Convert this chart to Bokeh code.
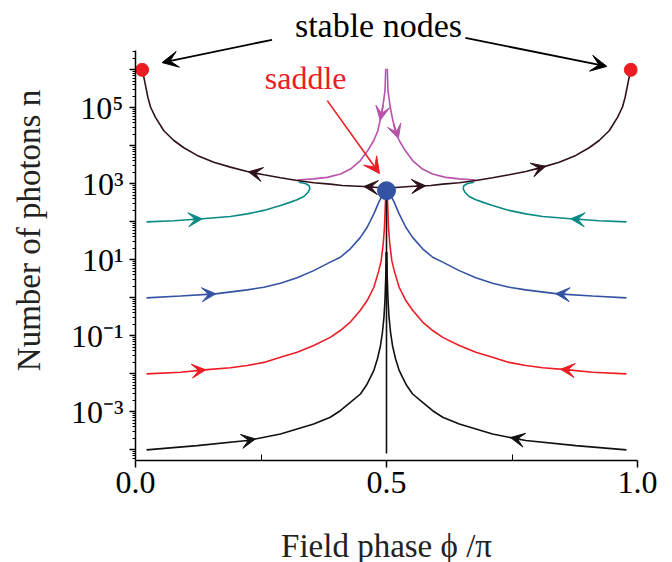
import numpy as np
from bokeh.plotting import figure
from bokeh.layouts import column
from bokeh.models import (FixedTicker, CustomJSTickFormatter, Arrow, VeeHead,
                          Label, Range1d)
from bokeh.embed import file_html
from bokeh.resources import INLINE

# ---------------- data (phi/pi , n) ----------------
sep_left_phi = [0.0133, 0.0166, 0.0199, 0.0246, 0.0299, 0.0398, 0.0564, 0.0764,
                0.0963, 0.1229, 0.156, 0.189, 0.2225, 0.2557, 0.2888, 0.322,
                0.355, 0.388, 0.4117, 0.4548, 0.4814, 0.500]
sep_right_phi = [0.9867, 0.9834, 0.9801, 0.9754, 0.9701, 0.9602, 0.9436, 0.9236,
                 0.9037, 0.8771, 0.844, 0.811, 0.7775, 0.7443, 0.7112, 0.678,
                 0.645, 0.612, 0.5883, 0.5452, 0.5186, 0.500]
sep_n = [1.0e6, 6.4e5, 3.9e5, 1.9e5, 1.05e5, 5.6e4, 2.5e4, 1.38e4,
         8.9e3, 5.6e3, 3.7e3, 2.75e3, 2.1e3, 1.73e3, 1.44e3, 1.22e3,
         1.07e3, 980, 900, 850, 800, 760]

black_left_phi = [0.022, 0.1229, 0.2225, 0.2888, 0.355, 0.388, 0.408, 0.428, 0.448,
                  0.460, 0.468, 0.475, 0.482, 0.488, 0.492, 0.495, 0.497, 0.4985,
                  0.4993]
black_right_phi = [0.978, 0.8771, 0.7775, 0.7112, 0.645, 0.612, 0.592, 0.572, 0.552,
                   0.540, 0.532, 0.525, 0.518, 0.512, 0.508, 0.505, 0.503, 0.5015,
                   0.5007]
black_n = [1.0e-4, 1.29e-4, 1.76e-4, 2.6e-4, 4.8e-4, 7.2e-4, 1.07e-3, 1.78e-3,
           2.95e-3, 5.0e-3, 8.1e-3, 1.26e-2, 2.5e-2, 5.5e-2, 0.126, 0.316, 0.89,
           3.5, 16]

red_left_phi = [0.022, 0.0896, 0.1428, 0.189, 0.2225, 0.2557, 0.2888, 0.322, 0.355,
                0.388, 0.408, 0.428, 0.448, 0.4615, 0.4748, 0.4847, 0.4894, 0.4934,
                0.496, 0.498, 0.4995]
red_right_phi = [0.978, 0.9104, 0.8572, 0.811, 0.7775, 0.7443, 0.7112, 0.678, 0.645,
                 0.612, 0.592, 0.572, 0.552, 0.5385, 0.5252, 0.5153, 0.5106, 0.5066,
                 0.504, 0.502, 0.5005]
red_n = [1.0e-2, 1.1e-2, 1.29e-2, 1.45e-2, 1.66e-2, 2.0e-2, 2.75e-2, 3.7e-2, 5.6e-2,
         9.1e-2, 0.138, 0.23, 0.47, 0.85, 1.9, 5.2, 9.5, 26, 72, 360, 600]

blue_left_phi = [0.022, 0.0896, 0.159, 0.2225, 0.2557, 0.2888, 0.322, 0.355, 0.388,
                 0.408, 0.428, 0.448, 0.4615, 0.4748, 0.4847, 0.4914, 0.496]
blue_right_phi = [0.978, 0.9104, 0.841, 0.7775, 0.7443, 0.7112, 0.678, 0.645, 0.612,
                  0.592, 0.572, 0.552, 0.5385, 0.5252, 0.5153, 0.5086, 0.504]
blue_n = [1.0, 1.12, 1.27, 1.62, 1.9, 2.42, 3.36, 5.2, 8.7,
          11.7, 19.5, 39, 72, 162, 330, 490, 600]

teal_left_phi = [0.022, 0.0764, 0.1328, 0.189, 0.2225, 0.2557, 0.2888, 0.3088, 0.322,
                 0.3353, 0.3433, 0.3473, 0.346, 0.3386, 0.3254]
teal_right_phi = [0.978, 0.9236, 0.8672, 0.811, 0.7775, 0.7443, 0.7112, 0.6912, 0.678,
                  0.6647, 0.6567, 0.6527, 0.654, 0.6614, 0.6746]
teal_n = [100, 107, 120, 138, 162, 200, 270, 330, 380,
          465, 590, 740, 890, 1020, 1100]

mag_left_phi = [0.4985, 0.4970, 0.4926, 0.488, 0.4827, 0.4747, 0.4627, 0.448, 0.4283,
                0.4084, 0.3819, 0.3552, 0.3221]
mag_right_phi = [0.5015, 0.5030, 0.5074, 0.512, 0.5173, 0.5253, 0.5373, 0.552, 0.5717,
                 0.5916, 0.6181, 0.6448, 0.6779]
mag_n = [1.07e6, 2.85e5, 1.05e5, 5.1e4, 2.5e4, 1.38e4, 7.5e3, 4.1e3, 2.45e3,
         1.82e3, 1.48e3, 1.35e3, 1.26e3]

stable_phi = [0.0133, 0.9867]
stable_n = [1.0e6, 1.0e6]
saddle_phi = [0.5]
saddle_n = [6.6e2]
manifold_phi = [0.5, 0.5]
manifold_n = [8.0e-5, 6.6e2]

x_ticks = [0.0, 0.5, 1.0]
x_minor = [0.25, 0.75]
y_exps = list(range(-4, 7))

# ---------------- styling ----------------
FONT = "Liberation Serif"
C_SEP = "#2e1119"
C_BLACK = "#111111"
C_RED = "#ee1c25"
C_BLUE = "#3452a4"
C_TEAL = "#0a8a84"
C_MAG = "#b852aa"
C_NODE = "#ec1c24"
C_SADDLE = "#3553a5"
LW = 1.6

Y_LO, Y_HI = 10 ** -4.28, 10 ** 6.51      # visible axis extent
Y_TOP = 10 ** 7.824                       # room above the axis for annotations

W = 672
H_MAIN = 508
H_LABEL = 54

p = figure(width=W, height=H_MAIN, x_range=Range1d(0, 1),
           y_range=Range1d(Y_LO, Y_TOP), y_axis_type="log",
           output_backend="svg", toolbar_location=None,
           min_border_left=135, min_border_right=35, min_border_top=0,
           min_border_bottom=48)
p.outline_line_color = None
p.xgrid.visible = False
p.ygrid.visible = False
p.background_fill_color = "white"
p.border_fill_color = "white"

# x axis
xa = p.xaxis[0]
xa.ticker = FixedTicker(ticks=x_ticks, minor_ticks=x_minor)
xa.formatter = CustomJSTickFormatter(code="return tick.toFixed(1);")
# y axis
ya = p.yaxis[0]
ya.bounds = (Y_LO, Y_HI)
y_major = [10.0 ** e for e in y_exps]
y_minor = [m * 10.0 ** e for e in range(-5, 7) for m in range(2, 10)
           if Y_LO <= m * 10.0 ** e <= Y_HI]
ya.ticker = FixedTicker(ticks=y_major, minor_ticks=y_minor)
ya.formatter = CustomJSTickFormatter(code="""
const e = Math.round(Math.log10(tick));
if (Math.abs(e) % 2 == 0) { return ""; }
const sup = {"0":"\u2070","1":"\u00b9","2":"\u00b2","3":"\u00b3","4":"\u2074",
             "5":"\u2075","6":"\u2076","7":"\u2077","8":"\u2078","9":"\u2079","-":"\u207b"};
return "10" + String(e).split("").map(c => sup[c]).join("");
""")
ya.axis_label = "Number of photons n"

for ax in (xa, ya):
    ax.axis_line_color = "black"
    ax.axis_line_width = 1.5
    ax.major_tick_line_color = "black"
    ax.minor_tick_line_color = "black"
    ax.major_tick_line_width = 1.5
    ax.minor_tick_line_width = 1
    ax.major_label_text_font = FONT
    ax.major_label_text_font_size = "32px"
    ax.major_label_text_color = "black"
    ax.axis_label_text_font = FONT
    ax.axis_label_text_font_size = "33px"
    ax.axis_label_text_font_style = "normal"
    ax.axis_label_text_color = "#222222"

xa.major_tick_in = 0
xa.major_tick_out = 7
xa.minor_tick_in = 6
xa.minor_tick_out = 0
xa.major_label_standoff = 4

ya.major_tick_in = 0
ya.major_tick_out = 6
ya.minor_tick_in = 0
ya.minor_tick_out = 3
ya.major_label_standoff = 6
ya.axis_label_standoff = 21

# ---------------- curves ----------------
curves = [
    (teal_left_phi, teal_n, C_TEAL), (teal_right_phi, teal_n, C_TEAL),
    (blue_left_phi, blue_n, C_BLUE), (blue_right_phi, blue_n, C_BLUE),
    (red_left_phi, red_n, C_RED), (red_right_phi, red_n, C_RED),
    (black_left_phi, black_n, C_BLACK), (black_right_phi, black_n, C_BLACK),
    (manifold_phi, manifold_n, C_BLACK),
    (mag_left_phi, mag_n, C_MAG), (mag_right_phi, mag_n, C_MAG),
    (sep_left_phi, sep_n, C_SEP), (sep_right_phi, sep_n, C_SEP),
]
for xs, ys, c in curves:
    p.line(xs, ys, line_color=c, line_width=LW)


def n_at_phi(xs, ys, phi):
    xs = np.asarray(xs, dtype=float)
    ly = np.log10(np.asarray(ys, dtype=float))
    o = np.argsort(xs)
    return 10 ** np.interp(phi, xs[o], ly[o])


def phi_at_n(xs, ys, n):
    xs = np.asarray(xs, dtype=float)
    ly = np.log10(np.asarray(ys, dtype=float))
    o = np.argsort(ly)
    return float(np.interp(np.log10(n), ly[o], xs[o]))


def add_head(x0, y0, x1, y1, color, size=14):
    p.add_layout(Arrow(end=VeeHead(size=size, fill_color=color, line_color=color,
                                   line_width=1),
                       x_start=x0, y_start=y0, x_end=x1, y_end=y1,
                       line_color=color, line_width=LW))


def horiz_arrow(xs, ys, phi, direction, color):
    d = 0.02 * direction
    add_head(phi - d, n_at_phi(xs, ys, phi - d), phi, n_at_phi(xs, ys, phi), color)


# flow direction arrows (+1 right, -1 left)
horiz_arrow(sep_left_phi, sep_n, 0.225, -1, C_SEP)
horiz_arrow(sep_left_phi, sep_n, 0.455, -1, C_SEP)
horiz_arrow(sep_right_phi, sep_n, 0.578, +1, C_SEP)
horiz_arrow(sep_right_phi, sep_n, 0.817, +1, C_SEP)
horiz_arrow(teal_left_phi[:9], teal_n[:9], 0.133, +1, C_TEAL)
horiz_arrow(teal_right_phi[:9], teal_n[:9], 0.867, -1, C_TEAL)
horiz_arrow(blue_left_phi, blue_n, 0.160, +1, C_BLUE)
horiz_arrow(blue_right_phi, blue_n, 0.837, -1, C_BLUE)
horiz_arrow(red_left_phi, red_n, 0.140, +1, C_RED)
horiz_arrow(red_right_phi, red_n, 0.847, -1, C_RED)
horiz_arrow(black_left_phi, black_n, 0.239, +1, C_BLACK)
horiz_arrow(black_right_phi, black_n, 0.747, -1, C_BLACK)
for xs, n_tip in ((mag_left_phi, 4.7e4), (mag_right_phi, 1.55e4)):
    n_tail = n_tip * 2.5
    add_head(phi_at_n(xs, mag_n, n_tail), n_tail, phi_at_n(xs, mag_n, n_tip), n_tip, C_MAG)

# fixed points
p.scatter(stable_phi, stable_n, size=13, fill_color=C_NODE, line_color=C_NODE)
p.scatter(saddle_phi, saddle_n, size=18, fill_color=C_SADDLE, line_color=C_SADDLE)

# annotations
p.add_layout(Label(x=0.484, y=10 ** 7.17, text="stable nodes", text_align="center",
                   text_baseline="middle", text_font=FONT, text_font_size="34px",
                   text_color="black"))
for x0, y0, x1, y1 in ((0.272, 10 ** 6.79, 0.053, 10 ** 6.19),
                       (0.657, 10 ** 6.84, 0.939, 10 ** 6.09)):
    p.add_layout(Arrow(end=VeeHead(size=16, fill_color="black", line_color="black"),
                       x_start=x0, y_start=y0, x_end=x1, y_end=y1,
                       line_color="black", line_width=1.8))
p.add_layout(Label(x=0.339, y=10 ** 5.79, text="saddle", text_align="center",
                   text_baseline="middle", text_font=FONT, text_font_size="32px",
                   text_color=C_RED))
p.add_layout(Arrow(end=VeeHead(size=16, fill_color=C_RED, line_color=C_RED),
                   x_start=0.382, y_start=10 ** 5.19, x_end=0.486, y_end=10 ** 3.27,
                   line_color=C_RED, line_width=1.6))

# x-axis title strip below the plot (frame aligned with the main plot's frame)
p2 = figure(width=W, height=H_LABEL, x_range=Range1d(0, 1), y_range=Range1d(0, H_LABEL),
            output_backend="svg", toolbar_location=None, min_border=0,
            x_axis_location=None, y_axis_location=None)
p2.outline_line_color = None
p2.xgrid.visible = False
p2.ygrid.visible = False
p2.add_layout(Label(x=0.5, y=17, text="Field phase \u03d5 /\u03c0", text_align="center",
                    text_baseline="middle", text_font=FONT, text_font_size="33px",
                    text_color="#222222"))

layout = column(p, p2, spacing=0)
with open("out.html", "w", encoding="utf-8") as f:
    f.write(file_html(layout, INLINE))
